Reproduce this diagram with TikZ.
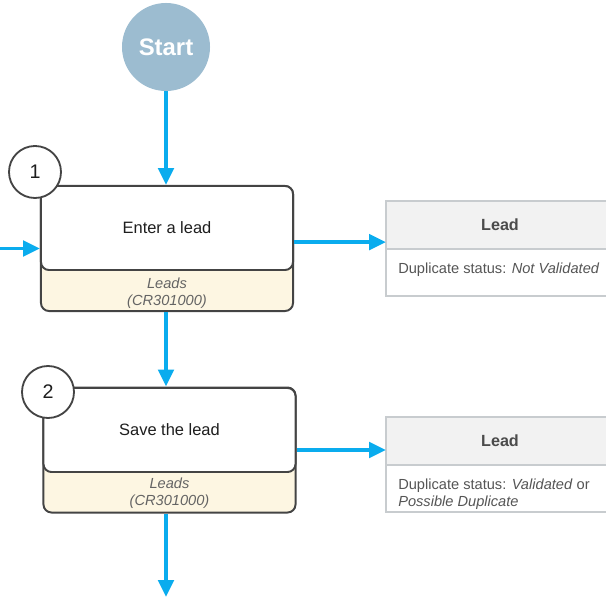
\documentclass[tikz,border=0pt]{standalone}
\usepackage{fontspec}
\setmainfont{Liberation Sans}
\usepackage{tikz}
\usetikzlibrary{arrows.meta,positioning,calc}
\definecolor{flowblue}{RGB}{10,172,238}
\definecolor{startfill}{RGB}{156,188,208}
\definecolor{formtan}{RGB}{253,246,226}
\definecolor{darkline}{RGB}{68,68,68}
\definecolor{tableline}{RGB}{200,204,207}
\definecolor{headfill}{RGB}{242,242,242}
\definecolor{textdark}{RGB}{30,30,30}
\definecolor{textgray}{RGB}{100,100,100}

\begin{document}
\begin{tikzpicture}[x=0.025cm, y=-0.025cm,
    every node/.style={font=\fontsize{11.7}{14}\selectfont, text=textdark},
    flow/.style={-{Triangle[length=12pt,width=11pt]}, line width=2.6pt, draw=flowblue},
    startnode/.style={circle, fill=startfill, minimum size=2.2cm, inner sep=0pt, text=white, font=\fontsize{17}{20}\selectfont\bfseries},
    formbox/.style={draw=darkline, fill=formtan, line width=1.4pt, rounded corners=0.2cm, minimum width=6.3cm, minimum height=3.125cm, inner sep=0pt},
    stepbox/.style={draw=darkline, fill=white, line width=1.4pt, rounded corners=0.2cm, minimum width=6.3cm, minimum height=2.1cm, inner sep=0pt},
    formlabel/.style={align=center, text=textgray, font=\fontsize{10.4}{12}\selectfont\itshape},
    stepnum/.style={circle, draw=darkline, fill=white, line width=1.3pt, minimum size=1.3cm, inner sep=0pt, font=\fontsize{14}{16}\selectfont},
    leadhead/.style={draw=tableline, fill=headfill, line width=1pt, outer sep=0pt, minimum width=5.7cm, minimum height=1.2cm, inner sep=0pt, text=textdark!80, font=\fontsize{11.5}{14}\selectfont\bfseries},
    leadbody/.style={draw=tableline, fill=white, line width=1pt, outer sep=0pt, minimum width=5.7cm, minimum height=1.175cm, inner sep=0pt},
    bodytext/.style={anchor=north west, align=left, inner sep=0pt, text=textgray!85!black, font=\fontsize{10.4}{12}\selectfont}]
    \useasboundingbox (0,0) rectangle (606,597);
    \clip (0,0) rectangle (606,597);

    % Start
    \node[startnode] (start) at (166,47) {Start};

    % Step 1
    \node[formbox] (f1) at (167,248.5) {};
    \node[stepbox] (s1) at (167,228) {Enter a lead};
    \node[formlabel] (l1) at (167,293) {Leads\\(CR301000)};
    \node[stepnum] (n1) at (35,172) {1};

    % Step 2
    \node[formbox] (f2) at (169.5,450) {};
    \node[stepbox] (s2) at (169.5,430) {Save the lead};
    \node[formlabel] (l2) at (169.5,493) {Leads\\(CR301000)};
    \node[stepnum] (n2) at (48,392) {2};

    % Lead records
    \node[leadhead] (lead1head) at (500,225) {Lead};
    \node[leadbody, below=0pt of lead1head] (lead1body) {};
    \node[bodytext] (lead1text) at ($(lead1body.north west)+(12,14)$) {Duplicate status: \textit{Not Validated}};

    \node[leadhead] (lead2head) at (500,441) {Lead};
    \node[leadbody, below=0pt of lead2head] (lead2body) {};
    \node[bodytext] (lead2text) at ($(lead2body.north west)+(12,14)$) {Duplicate status: \textit{Validated} or\\\textit{Possible Duplicate}};

    % Flow
    \coordinate (in1) at (-5,248.5);
    \coordinate (o1) at ([yshift=0.16cm]f1.east);
    \coordinate (out2) at (166,597);
    \draw[flow] (start.south) -- (start.south |- f1.north);
    \draw[flow] (in1) -- (f1.west);
    \draw[flow] (o1) -- (o1 -| lead1head.west);
    \draw[flow] (f1.south -| start) -- (f2.north -| start);
    \draw[flow] (f2.east) -- (f2.east -| lead2head.west);
    \draw[flow] (f2.south -| start) -- (out2);
\end{tikzpicture}
\end{document}
